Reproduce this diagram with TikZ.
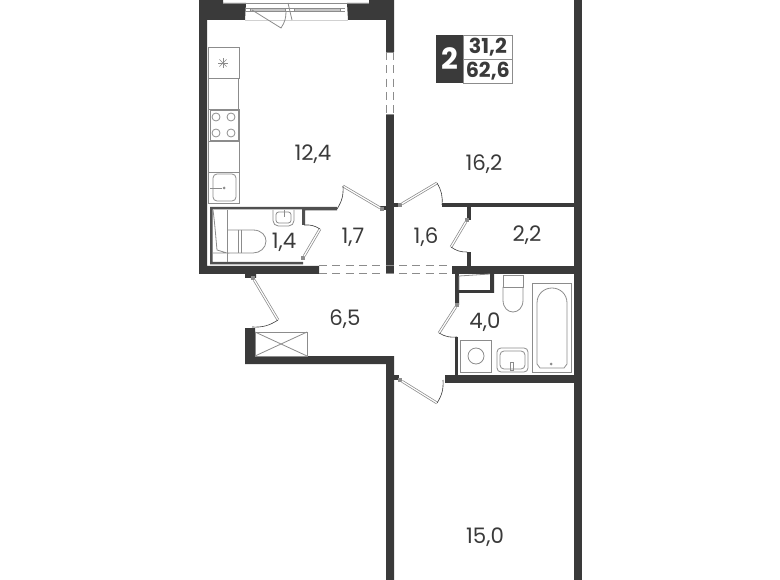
\documentclass[tikz,border=0pt]{standalone}
\usepackage{fontspec}
\setmainfont{Poppins}
\definecolor{wallc}{HTML}{3A3A3A}
\definecolor{innerc}{HTML}{505050}
\definecolor{fixc}{HTML}{8C8C8C}
\tikzset{
  wall/.style={fill=wallc,draw=none},
  innerwall/.style={fill=innerc,draw=none},
  fixture/.style={draw=fixc,line width=0.6pt,fill=none},
  leaf/.style={draw=fixc,line width=0.55pt,double=white,double distance=0.9pt},
  swing/.style={draw=wallc,line width=0.45pt},
  hinge/.style={fill=fixc,inner sep=0pt,minimum size=2.5pt},
  opening/.style={draw=fixc,line width=0.7pt,dash pattern=on 6pt off 4pt},
  area/.style={text=wallc,font=\fontsize{16}{16}\selectfont},
  tag/.style={text=wallc,font=\fontsize{15.5}{15.5}\selectfont\bfseries,draw=fixc,line width=0.5pt,minimum width=36.75pt,minimum height=18pt,inner sep=0pt,anchor=north west}
}
\begin{document}
\begin{tikzpicture}[x=0.75pt,y=-0.75pt]
  \useasboundingbox (0,0) rectangle (780,580);
  % walls
  \fill[wall] (199,0) -- (223,0) -- (223,3) -- (246,3) -- (245,20) -- (207,20) -- (207,266) -- (319,266) -- (319,274) -- (256,274) -- (256,278) -- (245,278) -- (245,274) -- (199,274) -- cycle;
  \fill[wall] (369,0) -- (394,0) -- (394,52) -- (386,52) -- (386,20) -- (348,20) -- (347,3) -- (369,3) -- cycle;
  \fill[wall] (386,114) rectangle (394,273);
  \fill[wall] (574,0) rectangle (582,580);
  \fill[wall] (442,203) rectangle (574,207);
  \fill[wall] (467,207) rectangle (471,220);
  \fill[wall] (467,252) rectangle (471,266);
  \fill[wall] (452,266) rectangle (574,274);
  \fill[wall] (245,328) -- (255,328) -- (255,356) -- (394,356) -- (394,580) -- (386,580) -- (386,364) -- (245,364) -- cycle;
  \fill[wall] (445,375) rectangle (574,383);
  \fill[wall] (394,375) rectangle (399,380);
  \fill[wall] (394,203) rectangle (400,207);
  \fill[wall] (380,206) rectangle (386,210);
  % inner walls
  \fill[innerwall] (210,207) -- (303,207) -- (337,207) -- (337,210.5) -- (305,210.5) -- (305,225) -- (302,225) -- (302,209.5) -- (212.5,209.5) -- (212.5,262) -- (303,262) -- (303,264.5) -- (210,264.5) -- cycle;
  \fill[wall] (455,274) -- (494,274) -- (494,293) -- (459,293) -- (459,305) -- (455,305) -- cycle;
  \fill[white] (459,274) rectangle (490,290);
  \fill[wall] (455,337) rectangle (458,375);
  % doors
  \node[hinge] (hingeA) at (382,209) {};
  \coordinate (freeA) at (343,186);
  \coordinate (jambA) at (337,209);
  \draw[leaf] (hingeA) -- (freeA);
  \draw[swing] (freeA) to[bend left=18] (jambA);
  \node[hinge] (hingeB) at (400,205) {};
  \coordinate (freeB) at (437,183);
  \coordinate (jambB) at (442,205);
  \draw[leaf] (hingeB) -- (freeB);
  \draw[swing] (freeB) to[bend left=18] (jambB);
  \node[hinge] (hingeC) at (467,220) {};
  \coordinate (freeC) at (451,247);
  \coordinate (jambC) at (467,252);
  \draw[leaf] (hingeC) -- (freeC);
  \draw[swing] (freeC) to[bend right=18] (jambC);
  \node[hinge] (hingeD) at (303,258) {};
  \coordinate (freeD) at (320,229);
  \coordinate (jambD) at (304,225);
  \draw[leaf] (hingeD) -- (freeD);
  \draw[swing] (freeD) to[bend right=18] (jambD);
  \node[hinge] (hingeE) at (253,278) {};
  \coordinate (freeE) at (278,320);
  \coordinate (jambE) at (252,327);
  \draw[leaf] (hingeE) -- (freeE);
  \draw[swing] (freeE) to[bend left=18] (jambE);
  \node[hinge] (hingeF) at (400,380) {};
  \coordinate (freeF) at (437,403);
  \coordinate (jambF) at (443,380);
  \draw[leaf] (hingeF) -- (freeF);
  \draw[swing] (freeF) to[bend right=18] (jambF);
  \node[hinge] (hingeG) at (457,305) {};
  \coordinate (freeG) at (439,333);
  \coordinate (jambG) at (457,337);
  \draw[leaf] (hingeG) -- (freeG);
  \draw[swing] (freeG) to[bend right=18] (jambG);
  % openings
  \draw[opening] (319,265.5) -- (452,265.5);
  \draw[opening] (319,273.5) -- (452,273.5);
  \draw[opening] (386.5,52) -- (386.5,114);
  \draw[opening] (393.5,52) -- (393.5,114);
  \draw[fixture] (386,52) -- (394,52) (386,114) -- (394,114);
  % balcony door
  \draw[fixture] (223,3) -- (369,3);
  \draw[fixc!40,line width=0.5pt] (245,20) -- (348,20);
  \draw[fixture,fill=fixc!50] (250,8) rectangle (285,11);
  \draw[fixture,fill=fixc!50] (294,8) rectangle (340,11);
  \draw[fixture] (246,8) -- (250,8) (340,8) -- (345,8) (246,11) -- (250,11) (340,11) -- (345,11);
  \draw[fixture] (285,8) -- (294,8) (285,11) -- (294,11);
  \draw[fixture] (288,3) -- (292,20);
  \draw[fixture] (252,10) -- (281,28) .. controls (285,22) and (286,18) .. (286,11);
  % kitchen
  \draw[fixture] (208,47) rectangle (239,78);
  \draw[fixture] (208,78) rectangle (238,109);
  \draw[fixture] (208,109) rectangle (239,141);
  \draw[fixture] (210,110) rectangle (238,140);
  \draw[fixture] (208,141) rectangle (239,172);
  \draw[fixture] (208,172) rectangle (239,203);
  \draw[fixture,rounded corners=3pt] (213,174) rectangle (236,201);
  \draw[fixture] (210,188) -- (222,188);
  \fill[fixc] (224,188) circle (1.5);
  \foreach \ang in {0,45,...,315}
    \draw[fixc,line width=0.5pt] (223,63) -- +(\ang:5);
  \foreach \px in {216,231}
    \foreach \py in {117,133}
      \draw[fixture] (\px,\py) circle (4);
  % wc room
  \draw[fixture] (227,210) -- (227,262);
  \draw[fixture] (213,210) .. controls (215,225) and (216,240) .. (217,250) -- (227,253) -- (213,253);
  \draw[fixture] (227,230) -- (253,230) .. controls (262,230) and (266,236) .. (266,241) .. controls (266,248) and (260,253) .. (253,253) -- (227,253);
  \draw[fixture] (238,230) -- (238,253) (241,230) -- (241,253);
  \draw[fixture,rounded corners=4pt] (273,210) -- (273,226) -- (294,226) -- (294,210);
  \draw[fixture,rounded corners=2pt] (276,212) -- (276,223) -- (291,223) -- (291,212) -- cycle;
  \draw[fixture] (284,210) -- (284,217);
  % bath
  \draw[fixture] (503,275) rectangle (523,287);
  \draw[fixture] (503,287) -- (503,300) .. controls (503,308) and (508,312) .. (513,312) .. controls (518,312) and (523,308) .. (523,300) -- (523,287);
  \draw[fixture] (532,283) rectangle (571,372);
  \draw[fixture] (537,303) .. controls (537,294) and (544,288) .. (552,288) .. controls (560,288) and (567,294) .. (567,303) -- (567,364) -- (564,368) -- (540,368) -- (537,364) -- cycle;
  \fill[fixc] (551,364) circle (1.5);
  \draw[fixture] (460,340) rectangle (491,372);
  \draw[fixture] (476,356) circle (8);
  \draw[fixture,rounded corners=3pt] (497,372) -- (497,348) -- (528,348) -- (528,372) -- cycle;
  \draw[fixture,rounded corners=3pt] (500,369) -- (500,351) -- (525,351) -- (525,369) -- cycle;
  \draw[fixture] (510,362) rectangle (513,370);
  % shaft
  \draw[fixture] (255,332) rectangle (307,356);
  \draw[fixture] (255,332) -- (307,356) (255,356) -- (307,332);
  \draw[fixture] (459,276) -- (490,274) (459,276) -- (459,290);
  % labels
  \node[area] (kitchen) at (313,154) {12,4};
  \node[area] (livingroom) at (484,164) {16,2};
  \node[area] (wc) at (284,242) {1,4};
  \node[area] (hallA) at (353,237) {1,7};
  \node[area] (hallB) at (426,237) {1,6};
  \node[area] (closet) at (527,235) {2,2};
  \node[area] (bathroom) at (485,322) {4,0};
  \node[area] (hall) at (345,319) {6,5};
  \node[area] (bedroom) at (485,537) {15,0};
  % legend
  \node[fill=wallc,text=white,minimum width=20pt,minimum height=36pt,inner sep=0pt,font=\fontsize{22}{22}\selectfont\bfseries] (rooms) at (449.5,59) {2};
  \node[tag] (livearea) at (463,35) {31,2};
  \node[tag] (totalarea) at (463,59) {62,6};
\end{tikzpicture}
\end{document}
